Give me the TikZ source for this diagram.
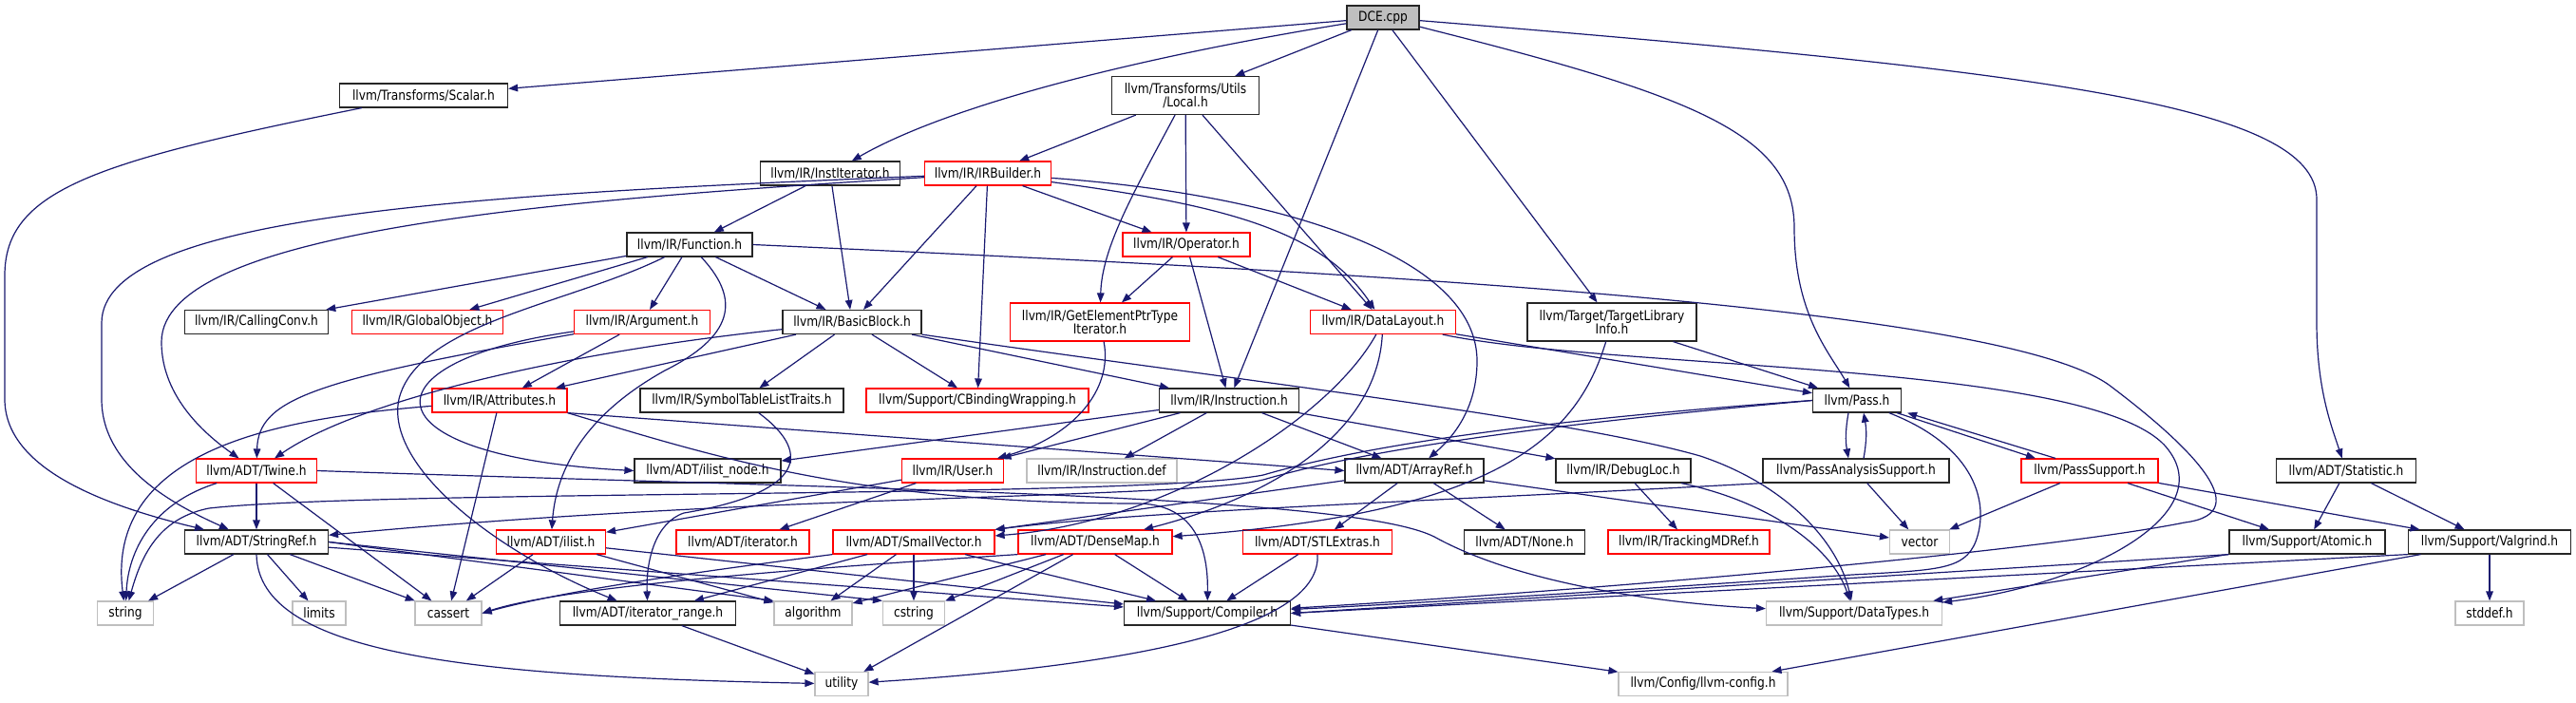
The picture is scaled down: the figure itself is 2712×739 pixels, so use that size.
\documentclass[tikz,border=0pt]{standalone}
\usepackage{fontspec}
\newfontfamily\doxfont[FakeStretch=0.85]{DejaVu Sans}
\usetikzlibrary{arrows.meta}
\definecolor{midnightblue}{HTML}{191970}
\definecolor{grey75}{HTML}{BFBFBF}

\begin{document}
\begin{tikzpicture}[
    x=0.5pt, y=-0.5pt,
    % Define header box styles
    hdr/.style={rectangle, draw=black!85, line width=0.6pt, fill=white, inner sep=0pt, minimum height=12.5pt, font=\doxfont\fontsize{7.2}{7.2}\selectfont},
    trunc/.style={hdr, draw=red},
    sys/.style={hdr, draw=grey75},
    cur/.style={hdr, fill=grey75},
    twoline/.style={minimum height=20pt, align=center},
    boxw/.style={minimum width=#1*0.5pt},
    % Define arrow style
    dep/.style={draw=midnightblue, line width=0.6pt, -{Triangle[length=5pt,width=3.8pt]}}
]
\fill[white] (0,0) rectangle (2712,739);

% Nodes, row by row
\node[cur, boxw=76] (dce) at (1456,18.5) {DCE.cpp};

\node[hdr, boxw=177] (scalar) at (446,100.5) {llvm/Transforms/Scalar.h};
\node[hdr, twoline, boxw=155] (local) at (1248,100.5) {llvm/Transforms/Utils\\/Local.h};

\node[hdr, boxw=147] (instit) at (874,182.5) {llvm/IR/InstIterator.h};
\node[trunc, boxw=133] (irbuilder) at (1040,182.5) {llvm/IR/IRBuilder.h};

\node[hdr, boxw=132] (function) at (726,257.5) {llvm/IR/Function.h};
\node[trunc, boxw=134] (operator) at (1249,257.5) {llvm/IR/Operator.h};

\node[hdr, boxw=151] (callconv) at (270,339) {llvm/IR/CallingConv.h};
\node[trunc, boxw=159] (globalobj) at (450,339) {llvm/IR/GlobalObject.h};
\node[trunc, boxw=143] (argument) at (676,339) {llvm/IR/Argument.h};
\node[hdr, boxw=146] (basicblock) at (897,339) {llvm/IR/BasicBlock.h};
\node[trunc, twoline, boxw=189] (gepit) at (1158,339) {llvm/IR/GetElementPtrType\\Iterator.h};
\node[trunc, boxw=153] (datalayout) at (1456,339) {llvm/IR/DataLayout.h};
\node[hdr, twoline, boxw=178] (tli) at (1697,339) {llvm/Target/TargetLibrary\\Info.h};

\node[trunc, boxw=142] (attributes) at (526,421.5) {llvm/IR/Attributes.h};
\node[hdr, boxw=214] (symtab) at (781,421.5) {llvm/IR/SymbolTableListTraits.h};
\node[trunc, boxw=234] (cbinding) at (1029,421.5) {llvm/Support/CBindingWrapping.h};
\node[hdr, boxw=147] (instruction) at (1294,421.5) {llvm/IR/Instruction.h};
\node[hdr, boxw=93] (pass) at (1955,421.5) {llvm/Pass.h};

\node[trunc, boxw=127] (twine) at (270,495.5) {llvm/ADT/Twine.h};
\node[hdr, boxw=154] (ilistnode) at (745,495.5) {llvm/ADT/ilist\_node.h};
\node[trunc, boxw=107] (user) at (1003,495.5) {llvm/IR/User.h};
\node[sys, boxw=158] (instdef) at (1160,495.5) {llvm/IR/Instruction.def};
\node[hdr, boxw=146] (arrayref) at (1489,495.5) {llvm/ADT/ArrayRef.h};
\node[hdr, boxw=142] (debugloc) at (1709,495.5) {llvm/IR/DebugLoc.h};
\node[hdr, boxw=196] (pas) at (1954,495.5) {llvm/PassAnalysisSupport.h};
\node[trunc, boxw=144] (passsupport) at (2200,495.5) {llvm/PassSupport.h};
\node[hdr, boxw=147] (statistic) at (2470,495.5) {llvm/ADT/Statistic.h};

\node[hdr, boxw=151] (stringref) at (270,570.5) {llvm/ADT/StringRef.h};
\node[trunc, boxw=115] (ilist) at (580,570.5) {llvm/ADT/ilist.h};
\node[trunc, boxw=140] (iterator) at (782,570.5) {llvm/ADT/iterator.h};
\node[trunc, boxw=170] (smallvector) at (962,570.5) {llvm/ADT/SmallVector.h};
\node[trunc, boxw=162] (densemap) at (1153,570.5) {llvm/ADT/DenseMap.h};
\node[trunc, boxw=157] (stlextras) at (1387,570.5) {llvm/ADT/STLExtras.h};
\node[hdr, boxw=127] (none) at (1605,570.5) {llvm/ADT/None.h};
\node[trunc, boxw=170] (trackingmd) at (1778,570.5) {llvm/IR/TrackingMDRef.h};
\node[sys, boxw=63] (vector) at (2021,570.5) {vector};
\node[hdr, boxw=164] (atomic) at (2429,570.5) {llvm/Support/Atomic.h};
\node[hdr, boxw=171] (valgrind) at (2621,570.5) {llvm/Support/Valgrind.h};

\node[sys, boxw=59] (string) at (132,645.5) {string};
\node[sys, boxw=56] (limits) at (336,645.5) {limits};
\node[sys, boxw=70] (cassert) at (472,645.5) {cassert};
\node[hdr, boxw=185] (iterrange) at (682,645.5) {llvm/ADT/iterator\_range.h};
\node[sys, boxw=82] (algorithm) at (856,645.5) {algorithm};
\node[sys, boxw=65] (cstring) at (962,645.5) {cstring};
\node[hdr, boxw=175] (compiler) at (1271,645.5) {llvm/Support/Compiler.h};
\node[sys, boxw=185] (datatypes) at (1952,645.5) {llvm/Support/DataTypes.h};
\node[sys, boxw=72] (stddef) at (2621,645.5) {stddef.h};

\node[sys, boxw=56] (utility) at (886,720) {utility};
\node[sys, boxw=178] (llvmconfig) at (1793,720) {llvm/Config/llvm-config.h};

% Arrows from DCE.cpp
\draw[dep] (dce) -- (scalar);
\draw[dep] (dce) -- (local);
\draw[dep] (dce) .. controls (1200,60) and (1000,110) .. (instit);
\draw[dep] (dce) -- (instruction);
\draw[dep] (dce) -- (tli);
\draw[dep] (dce) .. controls (1780,100) and (1889,140) .. (1889,240) .. controls (1889,330) and (1925,370) .. (pass);
\draw[dep] (dce) .. controls (2150,75) and (2439,110) .. (2439,210) -- (2439,340) .. controls (2439,410) and (2455,450) .. (statistic);

% Arrows from the transforms headers
\draw[dep] (scalar) .. controls (100,170) and (5,200) .. (5,290) -- (5,420) .. controls (5,490) and (100,530) .. (stringref);
\draw[dep] (local) -- (irbuilder);
\draw[dep] (local) .. controls (1195,200) and (1160,260) .. (gepit);
\draw[dep] (local) -- (operator);
\draw[dep] (local) -- (datalayout);

% Arrows from the IR headers
\draw[dep] (instit) -- (function);
\draw[dep] (instit) -- (basicblock);

\draw[dep] (irbuilder) .. controls (600,210) and (170,240) .. (170,360) .. controls (170,420) and (220,460) .. (twine);
\draw[dep] (irbuilder) .. controls (500,205) and (107,225) .. (107,340) -- (107,420) .. controls (107,490) and (180,530) .. (stringref);
\draw[dep] (irbuilder) -- (basicblock);
\draw[dep] (irbuilder) -- (cbinding);
\draw[dep] (irbuilder) -- (operator);
\draw[dep] (irbuilder) .. controls (1280,215) and (1390,240) .. (datalayout);
\draw[dep] (irbuilder) .. controls (1350,205) and (1555,270) .. (1555,380) .. controls (1555,430) and (1530,460) .. (arrayref);

\draw[dep] (function) -- (callconv);
\draw[dep] (function) -- (globalobj);
\draw[dep] (function) -- (argument);
\draw[dep] (function) -- (basicblock);
\draw[dep] (function) .. controls (600,320) and (440,340) .. (420,420) .. controls (405,490) and (520,580) .. (iterrange);
\draw[dep] (function) .. controls (775,310) and (780,350) .. (700,390) .. controls (610,440) and (585,500) .. (ilist);
\draw[dep] (function.east) .. controls (1400,285) and (2100,320) .. (2220,405) .. controls (2300,465) and (2380,540) .. (2300,550) .. controls (2150,580) and (1700,620) .. (compiler);

\draw[dep] (operator) -- (gepit);
\draw[dep] (operator) -- (instruction);
\draw[dep] (operator) -- (datalayout);
\draw[dep] (gepit) .. controls (1172,410) and (1130,460) .. (user);

\draw[dep] (argument) .. controls (330,400) and (272,420) .. (twine);
\draw[dep] (argument) -- (attributes);
\draw[dep] (argument) .. controls (380,380) and (380,480) .. (ilistnode.west);

\draw[dep] (basicblock) .. controls (600,370) and (380,420) .. (twine);
\draw[dep] (basicblock) -- (attributes);
\draw[dep] (basicblock) -- (symtab);
\draw[dep] (basicblock) -- (cbinding);
\draw[dep] (basicblock) -- (instruction);
\draw[dep] (basicblock.south east) .. controls (1300,400) and (1650,440) .. (1790,480) .. controls (1880,510) and (1935,570) .. (datatypes);

\draw[dep] (datalayout) -- (pass);
\draw[dep] (datalayout) .. controls (1700,390) and (2200,380) .. (2280,470) .. controls (2340,540) and (2200,615) .. (datatypes);
\draw[dep] (datalayout) .. controls (1400,440) and (1230,550) .. (smallvector);
\draw[dep] (datalayout) .. controls (1450,450) and (1350,520) .. (densemap);

\draw[dep] (tli) -- (pass);
\draw[dep] (tli) .. controls (1660,460) and (1580,540) .. (densemap);

\draw[dep] (attributes) .. controls (300,440) and (110,470) .. (string);
\draw[dep] (attributes) -- (cassert);
\draw[dep] (attributes.south east) -- (arrayref.west);
\draw[dep] (attributes.south east) .. controls (750,480) and (900,530) .. (1200,530) .. controls (1260,532) and (1272,580) .. (compiler);

\draw[dep] (symtab) .. controls (860,480) and (840,520) .. (720,540) .. controls (690,550) and (680,590) .. (iterrange);

\draw[dep] (instruction) -- (ilistnode);
\draw[dep] (instruction) -- (user);
\draw[dep] (instruction) -- (instdef);
\draw[dep] (instruction) -- (arrayref);
\draw[dep] (instruction) -- (debugloc);

\draw[dep] (user) -- (iterator);
\draw[dep] (user) -- (ilist);

% Arrows from the pass headers
\draw[dep] ([xshift=-4.5pt]pass.south) to[bend right=10] ([xshift=-4pt]pas.north);
\draw[dep] ([xshift=4pt]pas.north) to[bend right=10] ([xshift=3.5pt]pass.south);
\draw[dep] ([xshift=-2.5pt]pass.south east) -- ([xshift=-28.5pt]passsupport.north);
\draw[dep] ([xshift=-18pt]passsupport.north) -- ([xshift=3pt]pass.south east);
\draw[dep] (pass.west) .. controls (1650,445) and (1450,470) .. (1330,505) .. controls (1250,525) and (800,520) .. (stringref);
\draw[dep] (pass.west) .. controls (1650,440) and (1450,465) .. (1330,500) .. controls (1200,525) and (400,515) .. (220,535) .. controls (170,545) and (150,580) .. (string);
\draw[dep] (pass) .. controls (2080,470) and (2095,530) .. (2080,570) .. controls (2068,600) and (2040,600) .. (1950,605) .. controls (1800,615) and (1500,635) .. (compiler);

\draw[dep] (pas.south west) .. controls (1500,528) and (1200,538) .. (smallvector.north east);
\draw[dep] (pas) -- (vector);

\draw[dep] (passsupport) -- (vector);
\draw[dep] (passsupport) -- (atomic);
\draw[dep] (passsupport) -- (valgrind);

\draw[dep] (statistic) -- (atomic);
\draw[dep] (statistic) -- (valgrind);

% Arrows from the ADT headers
\draw[dep] (twine) -- (stringref);
\draw[dep] (twine) .. controls (160,530) and (135,580) .. (string);
\draw[dep] (twine) -- (cassert);
\draw[dep] (twine.east) .. controls (900,515) and (1420,520) .. (1510,565) .. controls (1600,615) and (1750,635) .. (datatypes);

\draw[dep] (arrayref) -- (stlextras);
\draw[dep] (arrayref) -- (none);
\draw[dep] (arrayref) -- (smallvector.north east);
\draw[dep] (arrayref) -- (vector);

\draw[dep] (debugloc) -- (trackingmd);
\draw[dep] (debugloc) .. controls (1870,530) and (1930,580) .. (datatypes);

\draw[dep] (stringref) -- (string);
\draw[dep] (stringref) -- (limits);
\draw[dep] (stringref) -- (cassert);
\draw[dep] (stringref.south) .. controls (272,690) and (500,712) .. (utility);
\draw[dep] (stringref.east) -- (algorithm.north west);
\draw[dep] (stringref.east) -- (cstring.north west);
\draw[dep] (stringref) -- (compiler);

\draw[dep] (ilist) -- (cassert);
\draw[dep] (ilist) -- (algorithm);
\draw[dep] (ilist) -- (compiler);

\draw[dep] (smallvector) -- (iterrange);
\draw[dep] (smallvector) -- (algorithm);
\draw[dep] (smallvector) -- (cstring);
\draw[dep] (smallvector) -- (compiler);
\draw[dep] (smallvector.south west) .. controls (750,600) and (600,620) .. (cassert.east);

\draw[dep] (densemap) -- (algorithm);
\draw[dep] (densemap) -- (cstring);
\draw[dep] (densemap) -- (utility);
\draw[dep] (densemap) -- (compiler);
\draw[dep] (densemap.south west) .. controls (900,595) and (600,615) .. (cassert.east);

\draw[dep] (stlextras) -- (compiler);
\draw[dep] (stlextras.south) .. controls (1392,660) and (1200,700) .. (utility);

\draw[dep] (iterrange) -- (utility);

% Arrows from the support headers
\draw[dep] (atomic.south west) -- (compiler.east);
\draw[dep] (atomic) -- (datatypes);
\draw[dep] (valgrind) -- (stddef);
\draw[dep] (valgrind.south west) -- (compiler.east);
\draw[dep] (valgrind) -- (llvmconfig);
\draw[dep] (compiler) -- (llvmconfig);

\end{tikzpicture}
\end{document}
